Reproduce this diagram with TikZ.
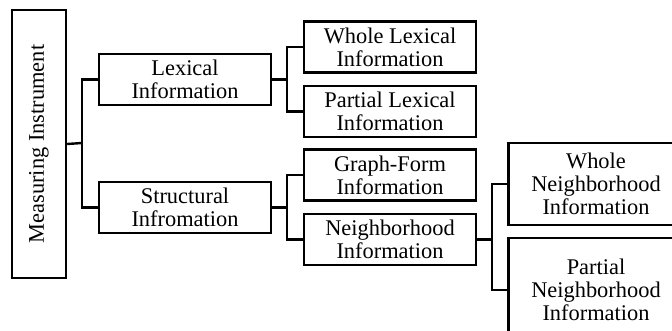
\documentclass[tikz,border=0pt]{standalone}
\usepackage{fontspec}
\setmainfont{Liberation Serif}
\tikzset{
  box/.style={draw, line width=1.8pt, align=center, inner sep=0pt,
    minimum width=129pt, minimum height=38pt, font=\fontsize{16.8}{17.4}\selectfont},
  bigbox/.style={box, minimum width=131pt},
  link/.style={line width=1.8pt}
}
\begin{document}
\begin{tikzpicture}[x=0.75pt,y=-0.75pt]
\useasboundingbox (0,0) rectangle (672,331);
\clip (0,0) rectangle (672,331);

\node[box, rotate=90, minimum width=201pt, minimum height=40.5pt] (mi) at (39,144) {Measuring Instrument};

\node[box] (lex) at (185,79.5) {Lexical\\Information};
\node[box] (struct) at (185,207.5) {Structural\\Infromation};

\node[box] (wlex) at (390,47) {Whole Lexical\\Information};
\node[box] (plex) at (390,111.5) {Partial Lexical\\Information};
\node[box] (graph) at (390,175) {Graph-Form\\Information};
\node[box] (nbr) at (390,239.5) {Neighborhood\\Information};

\node[bigbox, minimum height=61.5pt] (wnbr) at (596,184) {Whole\\Neighborhood\\Information};
\node[bigbox, minimum height=78pt] (pnbr) at (596,290) {Partial\\Neighborhood\\Information};

% junctions
\coordinate (j1) at (82,143);
\coordinate (j2) at (287,79.5);
\coordinate (j3) at (287,207.5);
\coordinate (j4) at (492,239.5);

\draw[link] (mi.south) -- (j1);
\draw[link] (lex.west) -| (j1) |- (struct.west);

\draw[link] (lex.east) -- (j2);
\draw[link] (wlex.west) -| (j2) |- (plex.west);

\draw[link] (struct.east) -- (j3);
\draw[link] (graph.west) -| (j3) |- (nbr.west);

\draw[link] (nbr.east) -- (j4);
\draw[link] (wnbr.west) -| (j4) |- (pnbr.west);

\end{tikzpicture}
\end{document}
